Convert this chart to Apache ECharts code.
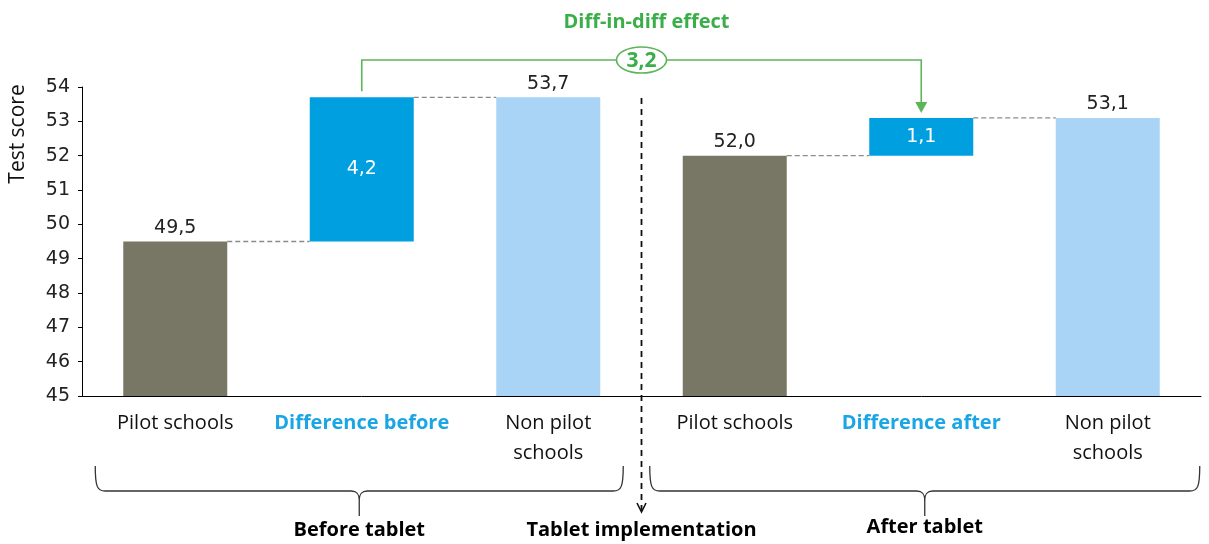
<!DOCTYPE html>
<html>
<head>
<meta charset="utf-8">
<script src="https://cdn.jsdelivr.net/npm/echarts@6/dist/echarts.min.js"></script>
<style>
html,body{margin:0;padding:0;background:#fff;}
#chart{width:1209px;height:544px;}
</style>
</head>
<body>
<div id="chart"></div>
<script>
// ---- data ----
var categories = ['Pilot schools', 'Difference before', 'Non pilot\nschools', 'Pilot schools', 'Difference after', 'Non pilot\nschools'];
var baseValues = [0, 49.5, 0, 0, 52.0, 0];
var barValues = [49.5, 4.2, 53.7, 52.0, 1.1, 53.1];
var barKinds = ['pilot', 'diff', 'nonpilot', 'pilot', 'diff', 'nonpilot'];
var connectorFrom = [0, 1, 3, 4];
var connectorLevel = [49.5, 53.7, 52.0, 53.1];
var yTicks = [45, 46, 47, 48, 49, 50, 51, 52, 53, 54];
var didLabel = '3,2';
var didTitle = 'Diff-in-diff effect';
var groupLabels = ['Before tablet', 'Tablet implementation', 'After tablet'];
var yAxisTitle = 'Test score';

var kindColor = {pilot: '#787766', diff: '#009FE0', nonpilot: '#A9D4F5'};
var green = '#5DB55A';
var greenText = '#3AAE49';
var numFont = '"DejaVu Sans", Verdana, sans-serif';
var txtFont = '"Open Sans", sans-serif';

function fmt(v) { return v.toFixed(1).replace('.', ','); }

var chart = echarts.init(document.getElementById('chart'), null, {renderer: 'canvas'});

var barData = barValues.map(function (v, i) {
  var k = barKinds[i];
  return {
    value: v,
    itemStyle: {color: kindColor[k]},
    label: k === 'diff'
      ? {show: true, position: 'inside', color: '#fff', fontFamily: numFont, fontSize: 19, formatter: function (p) { return fmt(p.value); }}
      : {show: true, position: 'top', distance: 4, color: '#222', fontFamily: numFont, fontSize: 19, formatter: function (p) { return fmt(p.value); }}
  };
});

var connData = connectorFrom.map(function (c, i) { return [c, connectorLevel[i]]; });

function bracePath(x1, x2, top, mid, tip) {
  var m = (x1 + x2) / 2;
  return 'M' + x1 + ' ' + top +
    ' C' + x1 + ' ' + (mid - 4) + ' ' + (x1 + 2) + ' ' + mid + ' ' + (x1 + 10) + ' ' + mid +
    ' L' + (m - 8) + ' ' + mid +
    ' C' + (m - 2) + ' ' + mid + ' ' + m + ' ' + (mid + 3) + ' ' + m + ' ' + (mid + 10) +
    ' L' + m + ' ' + tip +
    ' M' + m + ' ' + (mid + 10) +
    ' C' + m + ' ' + (mid + 3) + ' ' + (m + 2) + ' ' + mid + ' ' + (m + 8) + ' ' + mid +
    ' L' + (x2 - 10) + ' ' + mid +
    ' C' + (x2 - 2) + ' ' + mid + ' ' + x2 + ' ' + (mid - 4) + ' ' + x2 + ' ' + top;
}

function ellipsePath(cx, cy, rx, ry) {
  return 'M' + (cx - rx) + ' ' + cy +
    ' A' + rx + ' ' + ry + ' 0 1 0 ' + (cx + rx) + ' ' + cy +
    ' A' + rx + ' ' + ry + ' 0 1 0 ' + (cx - rx) + ' ' + cy + ' Z';
}

var option = {
  animation: false,
  backgroundColor: '#fff',
  grid: {left: 82, right: 8, top: 87, bottom: 148, containLabel: false, outerBoundsMode: 'none'},
  xAxis: {
    type: 'category',
    data: categories,
    axisTick: {show: false},
    axisLine: {lineStyle: {color: '#000', width: 1}},
    axisLabel: {
      margin: 12,
      interval: 0,
      fontFamily: txtFont,
      fontSize: 20,
      lineHeight: 30,
      color: '#111',
      formatter: function (v, i) {
        return barKinds[i] === 'diff' ? '{d|' + v + '}' : v;
      },
      rich: {d: {color: '#1AA6E4', fontWeight: 'bold', fontFamily: txtFont, fontSize: 20, lineHeight: 30}}
    }
  },
  yAxis: {
    type: 'value',
    min: yTicks[0],
    max: yTicks[yTicks.length - 1],
    interval: 1,
    splitLine: {show: false},
    axisLine: {show: true, lineStyle: {color: '#000', width: 1}},
    axisTick: {show: true, length: 4, lineStyle: {color: '#000'}},
    axisLabel: {fontFamily: numFont, fontSize: 19, color: '#222', margin: 12}
  },
  series: [
    {
      type: 'bar', stack: 'w', barWidth: 104,
      data: baseValues,
      itemStyle: {color: 'rgba(0,0,0,0)'},
      silent: true
    },
    {
      type: 'bar', stack: 'w', barWidth: 104,
      data: barData
    },
    {
      type: 'custom',
      data: connData,
      renderItem: function (params, api) {
        var c = api.value(0), lvl = api.value(1);
        var half = 52;
        var p1 = api.coord([c, lvl]);
        var p2 = api.coord([c + 1, lvl]);
        return {
          type: 'line',
          shape: {x1: p1[0] + half, y1: p1[1], x2: p2[0] - half, y2: p2[1]},
          style: {stroke: '#8a8a8a', lineWidth: 1.3, lineDash: [5, 3]}
        };
      },
      z: 3
    },
    {
      type: 'custom',
      data: [[0]],
      renderItem: function (params, api) {
        var band = api.size([1, 0])[0];
        var pL = api.coord([1, barValues[1] + baseValues[1]]);
        var pR = api.coord([4, barValues[4] + baseValues[4]]);
        var xL = pL[0], xR = pR[0];
        var topY = 60;
        var midX = (xL + xR) / 2;
        var sep = api.coord([2, 45])[0] + band / 2;
        var c0 = api.coord([0, 45])[0], c2 = api.coord([2, 45])[0];
        var c3 = api.coord([3, 45])[0], c5 = api.coord([5, 45])[0];
        var arrowEnd = pR[1] - 5;
        var rx = 25, ry = 13;
        var children = [
          {type: 'text', x: 18, y: 134, rotation: Math.PI / 2,
            style: {text: yAxisTitle, fill: '#111', font: '21px ' + txtFont, align: 'center', verticalAlign: 'middle'}},
          {type: 'polyline', shape: {points: [[xL, pL[1] - 6], [xL, topY], [xR, topY], [xR, arrowEnd - 9]]},
            style: {stroke: green, lineWidth: 1.6, fill: null}},
          {type: 'polygon', shape: {points: [[xR - 6, arrowEnd - 11], [xR + 6, arrowEnd - 11], [xR, arrowEnd]]},
            style: {fill: green}},
          {type: 'path', shape: {pathData: ellipsePath(midX, topY, rx, ry)},
            style: {fill: '#fff', stroke: green, lineWidth: 1.6}},
          {type: 'text', x: midX, y: topY + 1, style: {text: didLabel, fill: greenText, font: 'bold 21px ' + txtFont, align: 'center', verticalAlign: 'middle'}},
          {type: 'text', x: midX + 5, y: 22, style: {text: didTitle, fill: greenText, font: 'bold 20px ' + txtFont, align: 'center', verticalAlign: 'middle'}},
          {type: 'line', shape: {x1: sep, y1: 98, x2: sep, y2: 510},
            style: {stroke: '#111', lineWidth: 1.8, lineDash: [6, 5]}},
          {type: 'polyline', shape: {points: [[sep - 4.5, 503], [sep, 512], [sep + 4.5, 503]]},
            style: {stroke: '#111', lineWidth: 1.6, fill: null}},
          {type: 'path', shape: {pathData: bracePath(c0 - 80, c2 + 75, 466, 491, 516)},
            style: {stroke: '#333', lineWidth: 1.3, fill: null}},
          {type: 'path', shape: {pathData: bracePath(c3 - 85, c5 + 92, 466, 491, 516)},
            style: {stroke: '#333', lineWidth: 1.3, fill: null}},
          {type: 'text', x: (c0 - 80 + c2 + 75) / 2, y: 530, style: {text: groupLabels[0], fill: '#000', font: 'bold 20px ' + txtFont, align: 'center', verticalAlign: 'middle'}},
          {type: 'text', x: sep, y: 530, style: {text: groupLabels[1], fill: '#000', font: 'bold 20px ' + txtFont, align: 'center', verticalAlign: 'middle'}},
          {type: 'text', x: (c3 - 85 + c5 + 92) / 2, y: 527, style: {text: groupLabels[2], fill: '#000', font: 'bold 20px ' + txtFont, align: 'center', verticalAlign: 'middle'}}
        ];
        return {type: 'group', children: children};
      },
      z: 5
    }
  ]
};
chart.setOption(option);
</script>
</body>
</html>
